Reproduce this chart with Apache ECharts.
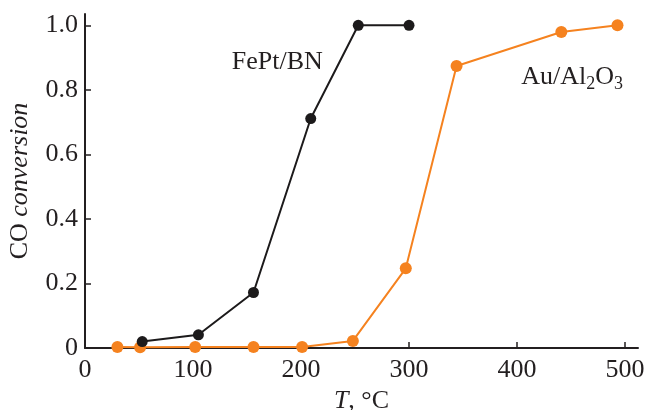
<!DOCTYPE html>
<html>
<head>
<meta charset="utf-8">
<script src="https://cdn.jsdelivr.net/npm/echarts@6/dist/echarts.min.js"></script>
<style>
  html, body { margin: 0; padding: 0; background: #fff; }
  #chart { width: 645px; height: 410px; }
</style>
</head>
<body>
<div id="chart"></div>
<script>
    // FePt/BN (black)
    var fePtT = [53, 105, 156, 209, 253, 300];
    var fePtConv = [0.020, 0.041, 0.172, 0.711, 1.0, 1.0];

    // Au/Al2O3 (orange)
    var auT = [30, 51, 102, 156, 201, 248, 297, 344, 441, 493];
    var auConv = [0.003, 0.002, 0.003, 0.003, 0.003, 0.022, 0.247, 0.874, 0.979, 1.0];

    var xTicks = [0, 100, 200, 300, 400, 500];
    var yTicks = [0, 0.2, 0.4, 0.6, 0.8, 1.0];

    var axisColor = '#231f20';
    var serif = "'Liberation Serif', 'Times New Roman', serif";
    var fs = 26;

    var toPairs = (xs, ys) => xs.map((x, i) => [x, ys[i]]);

    var option = {
        animation: false,
        textStyle: { fontFamily: serif },
        grid: { left: 85, right: 7, top: 14, bottom: 62, outerBoundsMode: 'none', containLabel: false },
        xAxis: {
            type: 'value',
            min: 0,
            max: 512,
            interval: 100,
            name: '{i|T}, °C',
            nameLocation: 'middle',
            nameGap: 30,
            nameTextStyle: {
                fontFamily: serif, fontSize: fs, color: axisColor,
                rich: { i: { fontFamily: serif, fontSize: fs, fontStyle: 'italic', color: axisColor } }
            },
            splitLine: { show: false },
            axisLine: { lineStyle: { color: axisColor, width: 2 } },
            axisTick: { inside: true, length: 6, lineStyle: { width: 1.5, color: axisColor },
                customValues: xTicks.slice(1) },
            axisLabel: { fontFamily: serif, fontSize: fs, color: axisColor, margin: 9,
                customValues: xTicks }
        },
        yAxis: {
            type: 'value',
            min: 0,
            max: 1.035,
            interval: 0.2,
            name: 'CO {i|conversion}',
            nameLocation: 'middle',
            nameGap: 52,
            nameRotate: 90,
            nameTextStyle: {
                fontFamily: serif, fontSize: fs, color: axisColor,
                rich: { i: { fontFamily: serif, fontSize: fs, fontStyle: 'italic', color: axisColor } }
            },
            splitLine: { show: false },
            axisLine: { show: true, lineStyle: { color: axisColor, width: 2 } },
            axisTick: { inside: true, length: 6, lineStyle: { width: 1.5, color: axisColor },
                customValues: yTicks.slice(1) },
            axisLabel: {
                fontFamily: serif, fontSize: fs, color: axisColor, margin: 7,
                customValues: yTicks,
                formatter: v => v === 0 ? '0' : v.toFixed(1)
            }
        },
        series: [
            {
                name: 'Au/Al2O3',
                type: 'line',
                data: toPairs(auT, auConv),
                symbol: 'circle',
                symbolSize: 12,
                itemStyle: { color: '#f5821f' },
                lineStyle: { color: '#f5821f', width: 2 },
                z: 2,
                markPoint: {
                    symbol: 'circle',
                    symbolSize: 0,
                    data: [{ coord: [451, 0.84] }],
                    label: {
                        show: true,
                        formatter: 'Au/Al{s|2}O{s|3}',
                        fontFamily: serif, fontSize: fs, color: axisColor,
                        rich: { s: { fontFamily: serif, fontSize: 18, color: axisColor, padding: [15, 0, 0, 0] } }
                    }
                }
            },
            {
                name: 'FePt/BN',
                type: 'line',
                data: toPairs(fePtT, fePtConv),
                symbol: 'circle',
                symbolSize: 11,
                itemStyle: { color: '#1c1a1b' },
                lineStyle: { color: '#1c1a1b', width: 2 },
                z: 3,
                markPoint: {
                    symbol: 'circle',
                    symbolSize: 0,
                    data: [{ coord: [178, 0.886] }],
                    label: {
                        show: true,
                        formatter: 'FePt/BN',
                        fontFamily: serif, fontSize: fs, color: axisColor
                    }
                }
            }
        ]
    };

    var myChart = echarts.init(document.getElementById('chart'));
    myChart.setOption(option);
</script>
</body>
</html>
